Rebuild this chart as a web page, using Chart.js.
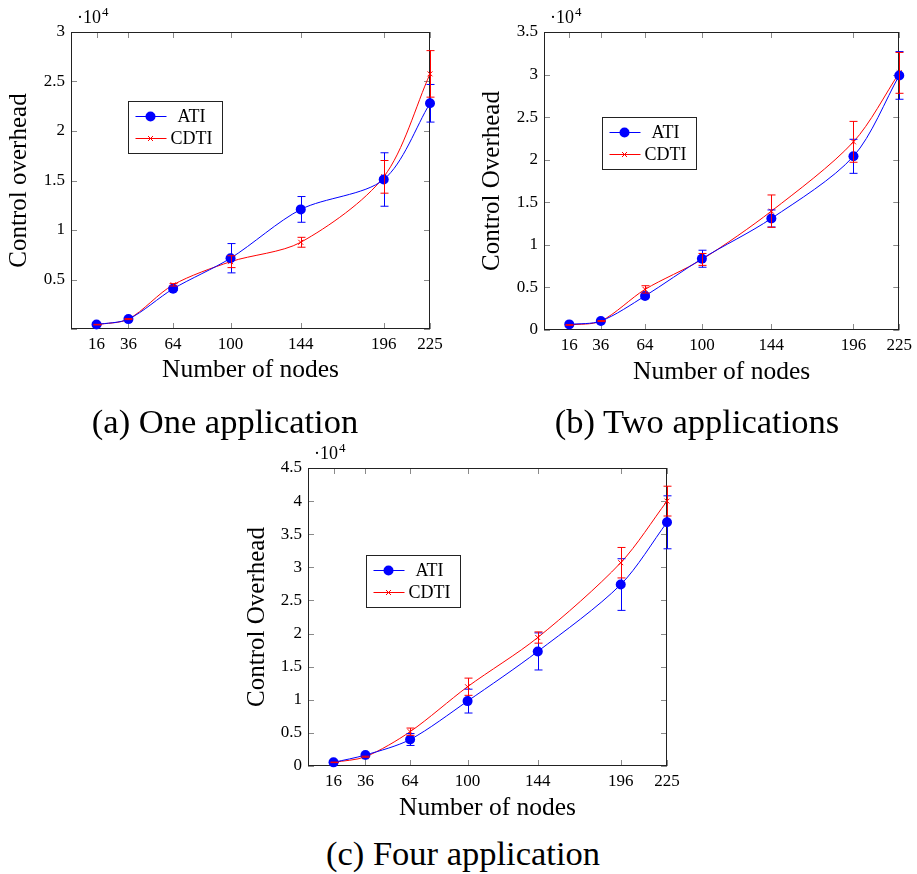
<!DOCTYPE html>
<html>
<head>
<meta charset="utf-8">
<script src="https://cdn.jsdelivr.net/npm/chart.js@4.4.1/dist/chart.umd.min.js"></script>
<style>
body { margin: 0; background: #fff; width: 917px; height: 874px; position: relative; overflow: hidden; font-family: "Liberation Serif", serif; }
canvas { position: absolute; }
.cap { position: absolute; font-size: 34.5px; line-height: 34px; color: #000; white-space: nowrap; transform: translateX(-50%); }
</style>
</head>
<body>
<canvas id="chartA" width="460" height="400" style="left:0px;top:0px"></canvas>
<canvas id="chartB" width="457" height="400" style="left:460px;top:0px"></canvas>
<canvas id="chartC" width="460" height="390" style="left:230px;top:440px"></canvas>
<div class="cap" style="left:225px;top:404px">(a) One application</div>
<div class="cap" style="left:697px;top:404px">(b) Two applications</div>
<div class="cap" style="left:463px;top:836px">(c) Four application</div>
<script>
// x axis: number of nodes
var nodes = [16, 36, 64, 100, 144, 196, 225];

// (a) One application
var atiA = [450, 1000, 4060, 7150, 12080, 15100, 22800];
var atiErrA = [40, 60, 150, 1480, 1300, 2700, 1900];
var cdtiA = [440, 1000, 4460, 6800, 8760, 15370, 25770];
var cdtiErrA = [30, 50, 120, 600, 500, 1650, 2350];

// (b) Two applications
var atiB = [660, 1050, 4000, 8370, 13100, 20400, 29900];
var atiErrB = [50, 80, 200, 1000, 1000, 2000, 2800];
var cdtiB = [590, 1050, 4770, 8290, 13960, 22100, 30200];
var cdtiErrB = [40, 60, 430, 700, 1900, 2400, 2400];

// (c) Four application
var atiC = [550, 1660, 4000, 9800, 17300, 27400, 36800];
var atiErrC = [40, 100, 900, 1800, 2800, 3900, 4000];
var cdtiC = [550, 1400, 5180, 11970, 19400, 30700, 40000];
var cdtiErrC = [40, 80, 550, 1300, 850, 2300, 2250];

var seriesNames = ["ATI", "CDTI"];

Chart.defaults.font.family = '"Liberation Serif", serif';
Chart.defaults.color = '#000';

// box around plot + inward tick marks + the 10^4 label
var framePlugin = {
  id: 'frame',
  beforeDatasetsDraw: function(chart) {
    var ctx = chart.ctx, a = chart.chartArea, x = chart.scales.x, y = chart.scales.y;
    ctx.save();
    ctx.strokeStyle = '#8a8a8a';
    ctx.lineWidth = 1;
    ctx.beginPath();
    x.ticks.forEach(function(t) {
      var px = Math.round(x.getPixelForValue(t.value)) + 0.5;
      ctx.moveTo(px, a.top); ctx.lineTo(px, a.top + 6);
      ctx.moveTo(px, a.bottom); ctx.lineTo(px, a.bottom - 6);
    });
    y.ticks.forEach(function(t) {
      var py = Math.round(y.getPixelForValue(t.value)) + 0.5;
      ctx.moveTo(a.left, py); ctx.lineTo(a.left + 6, py);
      ctx.moveTo(a.right, py); ctx.lineTo(a.right - 6, py);
    });
    ctx.stroke();
    ctx.strokeStyle = '#222';
    ctx.strokeRect(Math.round(a.left) + 0.5, Math.round(a.top) + 0.5, Math.round(a.width) - 1, Math.round(a.height) - 1);
    // exponent
    ctx.fillStyle = '#000';
    ctx.textBaseline = 'alphabetic';
    ctx.font = '18px "Liberation Serif"';
    var ex = a.left + 6, ey = a.top - 9;
    ctx.fillText('\u00b710', ex, ey);
    var w = ctx.measureText('\u00b710').width;
    ctx.font = '13px "Liberation Serif"';
    ctx.fillText('4', ex + w + 1, ey - 7);
    ctx.restore();
  }
};

// vertical error bars with caps
var errorPlugin = {
  id: 'errbars',
  afterDatasetsDraw: function(chart) {
    var ctx = chart.ctx, y = chart.scales.y, x = chart.scales.x;
    chart.data.datasets.forEach(function(ds) {
      ctx.save();
      ctx.strokeStyle = ds.borderColor;
      ctx.lineWidth = 1;
      ctx.beginPath();
      ds.data.forEach(function(p, j) {
        var e = ds.errors[j];
        var px = Math.round(x.getPixelForValue(p.x)) + 0.5;
        var t = y.getPixelForValue(p.y + e), b = y.getPixelForValue(p.y - e);
        ctx.moveTo(px, t); ctx.lineTo(px, b);
        ctx.moveTo(px - 4, t); ctx.lineTo(px + 4, t);
        ctx.moveTo(px - 4, b); ctx.lineTo(px + 4, b);
      });
      ctx.stroke();
      ctx.restore();
    });
  }
};

// legend box inside plot
var legendPlugin = {
  id: 'boxLegend',
  afterDraw: function(chart, args, opts) {
    var ctx = chart.ctx, a = chart.chartArea;
    var bx = Math.round(a.left + opts.x) + 0.5, by = Math.round(a.top + opts.y) + 0.5;
    ctx.save();
    ctx.fillStyle = '#fff';
    ctx.fillRect(bx, by, 94, 52);
    ctx.strokeStyle = '#222';
    ctx.lineWidth = 1;
    ctx.strokeRect(bx, by, 94, 52);
    chart.data.datasets.forEach(function(ds, i) {
      var ry = by + 15 + i * 22;
      ctx.strokeStyle = ds.borderColor;
      ctx.beginPath();
      ctx.moveTo(bx + 7, ry); ctx.lineTo(bx + 38, ry);
      ctx.stroke();
      if (ds.pointStyle === 'circle') {
        ctx.fillStyle = ds.borderColor;
        ctx.beginPath();
        ctx.arc(bx + 22, ry, 5, 0, Math.PI * 2);
        ctx.fill();
      } else {
        ctx.beginPath();
        ctx.moveTo(bx + 19.5, ry - 2.5); ctx.lineTo(bx + 24.5, ry + 2.5);
        ctx.moveTo(bx + 19.5, ry + 2.5); ctx.lineTo(bx + 24.5, ry - 2.5);
        ctx.stroke();
      }
      ctx.fillStyle = '#000';
      ctx.font = '18px "Liberation Serif"';
      ctx.textAlign = 'center';
      ctx.textBaseline = 'middle';
      ctx.fillText(ds.label, bx + 63, ry + 1);
    });
    ctx.restore();
  }
};

function pts(vals) {
  return nodes.map(function(n, i) { return { x: n, y: vals[i] }; });
}

function makeChart(id, box, ati, atiErr, cdti, cdtiErr, yMax, yTitle, hideZero) {
  var lh = 25.5 * 1.2;
  return new Chart(document.getElementById(id), {
    type: 'line',
    data: {
      datasets: [
        {
          label: seriesNames[0],
          data: pts(ati),
          errors: atiErr,
          borderColor: '#0000ff',
          backgroundColor: '#0000ff',
          borderWidth: 1,
          pointStyle: 'circle',
          pointRadius: 5,
          pointBorderWidth: 0,
          tension: 0.3,
          clip: false
        },
        {
          label: seriesNames[1],
          data: pts(cdti),
          errors: cdtiErr,
          borderColor: '#ff0000',
          backgroundColor: '#ff0000',
          borderWidth: 1,
          pointStyle: 'crossRot',
          pointRadius: 3.5,
          pointBorderWidth: 1,
          tension: 0.3,
          clip: false
        }
      ]
    },
    options: {
      responsive: false,
      animation: false,
      events: [],
      layout: { padding: { left: 0, top: box.T, right: box.W - box.R, bottom: 0 } },
      scales: {
        x: {
          type: 'linear',
          min: 0,
          max: 225,
          grid: { display: false, drawTicks: false },
          border: { display: false },
          afterBuildTicks: function(s) { s.ticks = nodes.map(function(v) { return { value: v }; }); },
          afterFit: function(s) { s.height = box.H - box.B; },
          ticks: { padding: 5, font: { size: 17 }, maxRotation: 0, autoSkip: false,
                   callback: function(v) { return String(v); } },
          title: { display: true, text: 'Number of nodes', font: { size: 25.5, lineHeight: 1.2 },
                   padding: { top: 0, bottom: box.H - box.xTitleY - lh / 2 } }
        },
        y: {
          min: 0,
          max: yMax,
          grid: { display: false, drawTicks: false },
          border: { display: false },
          afterFit: function(s) { s.width = box.L; },
          ticks: { stepSize: 5000, padding: 6, font: { size: 17 },
                   callback: function(v) {
                     if (v === 0 && hideZero) return '';
                     return String(Math.round(v / 1000) / 10);
                   } },
          title: { display: true, text: yTitle, font: { size: 25, lineHeight: 1.2 },
                   padding: { top: box.yTitleX - 15, bottom: 0 } }
        }
      },
      plugins: {
        legend: { display: false },
        tooltip: { enabled: false },
        boxLegend: { x: box.legX, y: box.legY }
      }
    },
    plugins: [framePlugin, errorPlugin, legendPlugin]
  });
}

makeChart('chartA', { W: 460, H: 400, L: 71, T: 32, R: 430, B: 329, yTitleX: 19, xTitleY: 370, legX: 57, legY: 69 },
  atiA, atiErrA, cdtiA, cdtiErrA, 30000, 'Control overhead', true);
makeChart('chartB', { W: 457, H: 400, L: 84, T: 32, R: 444, B: 330, yTitleX: 32, xTitleY: 372, legX: 58, legY: 85 },
  atiB, atiErrB, cdtiB, cdtiErrB, 35000, 'Control Overhead', false);
makeChart('chartC', { W: 460, H: 390, L: 78, T: 28, R: 437, B: 326, yTitleX: 27, xTitleY: 368, legX: 58, legY: 87 },
  atiC, atiErrC, cdtiC, cdtiErrC, 45000, 'Control Overhead', false);
</script>
</body>
</html>
